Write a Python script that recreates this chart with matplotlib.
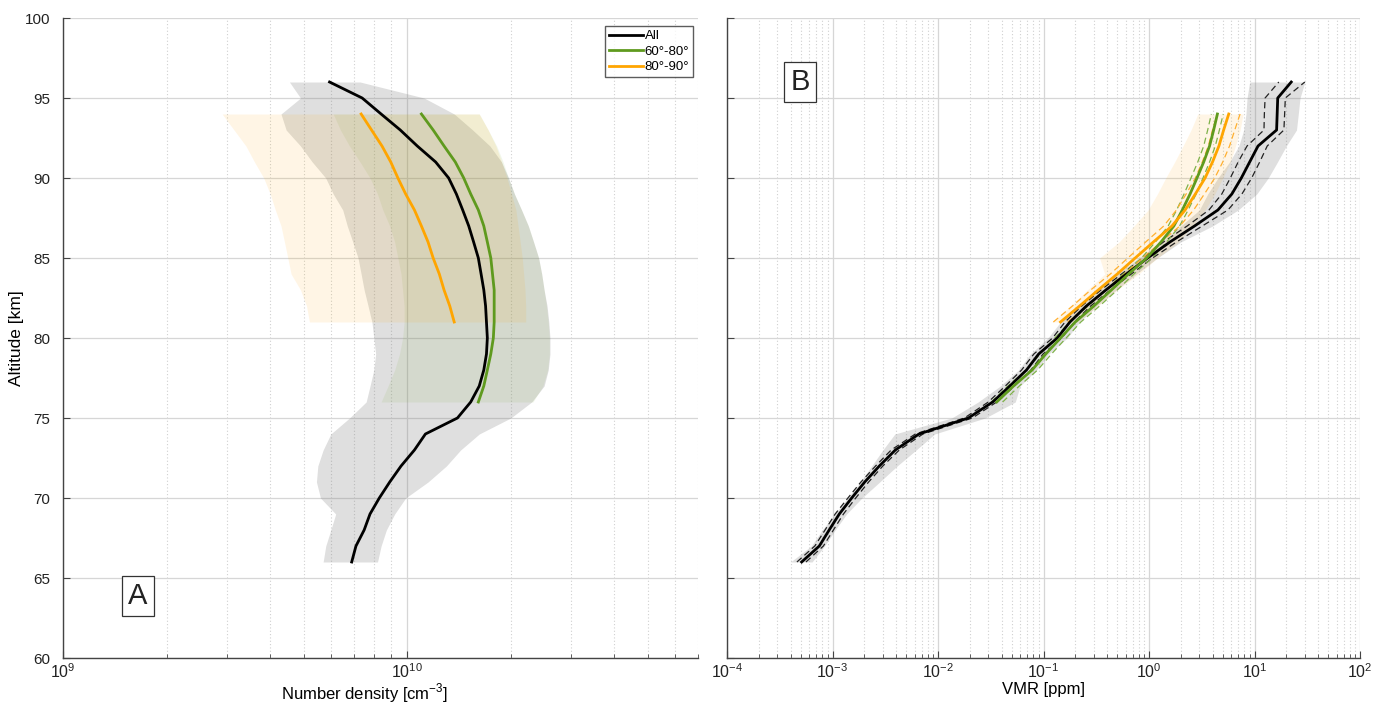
import numpy as np
import matplotlib
matplotlib.use("Agg")
import matplotlib.pyplot as plt
from matplotlib.ticker import LogLocator, NullFormatter, FixedLocator

plt.rcParams['font.family'] = ['Liberation Sans', 'DejaVu Sans']
plt.rcParams['mathtext.fontset'] = 'custom'
plt.rcParams['mathtext.rm'] = 'Liberation Sans'

# ---------------- Panel A data (number density, cm^-3) ----------------
alt_all = [66, 67, 68, 69, 70, 71, 72, 73, 74, 75, 76, 77, 78, 79, 80, 81,
           82, 83, 84, 85, 86, 87, 88, 89, 90, 91, 92, 93, 94, 95, 96]
nd_all = [6.9e9, 7.1e9, 7.5e9, 7.8e9, 8.3e9, 8.9e9, 9.6e9, 1.05e10, 1.13e10,
          1.40e10, 1.53e10, 1.62e10, 1.67e10, 1.70e10, 1.71e10, 1.70e10,
          1.69e10, 1.67e10, 1.64e10, 1.61e10, 1.56e10, 1.51e10, 1.45e10,
          1.39e10, 1.32e10, 1.21e10, 1.07e10, 9.55e9, 8.4e9, 7.4e9, 5.95e9]
nd_all_lo = [5.7e9, 5.8e9, 6.0e9, 6.2e9, 5.6e9, 5.45e9, 5.5e9, 5.7e9, 6.0e9,
             6.8e9, 7.6e9, 7.8e9, 8.0e9, 8.1e9, 8.0e9, 7.9e9, 7.7e9, 7.5e9,
             7.35e9, 7.2e9, 6.95e9, 6.7e9, 6.5e9, 6.1e9, 5.8e9, 5.3e9, 4.9e9,
             4.45e9, 4.3e9, 4.9e9, 4.55e9]
nd_all_hi = [8.2e9, 8.4e9, 8.7e9, 9.2e9, 9.9e9, 1.15e10, 1.3e10, 1.43e10,
             1.62e10, 2.0e10, 2.3e10, 2.5e10, 2.57e10, 2.6e10, 2.6e10, 2.58e10,
             2.55e10, 2.5e10, 2.46e10, 2.41e10, 2.33e10, 2.25e10, 2.15e10,
             2.05e10, 1.97e10, 1.88e10, 1.74e10, 1.55e10, 1.37e10, 1.12e10, 7.3e9]

alt_60_80 = [76, 77, 78, 79, 80, 81, 82, 83, 84, 85, 86, 87, 88, 89, 90, 91, 92, 93, 94]
nd_60_80 = [1.61e10, 1.67e10, 1.71e10, 1.75e10, 1.78e10, 1.79e10, 1.79e10,
            1.79e10, 1.77e10, 1.75e10, 1.71e10, 1.67e10, 1.61e10, 1.53e10,
            1.46e10, 1.38e10, 1.28e10, 1.19e10, 1.10e10]
nd_60_80_lo = [8.4e9, 8.8e9, 9.2e9, 9.5e9, 9.7e9, 9.8e9, 9.8e9, 9.7e9, 9.6e9,
               9.4e9, 9.2e9, 8.9e9, 8.5e9, 8.2e9, 7.8e9, 7.3e9, 6.8e9, 6.4e9, 6.1e9]
nd_60_80_hi = [2.32e10, 2.48e10, 2.56e10, 2.59e10, 2.59e10, 2.57e10, 2.54e10,
               2.5e10, 2.46e10, 2.41e10, 2.33e10, 2.25e10, 2.15e10, 2.05e10,
               1.97e10, 1.9e10, 1.82e10, 1.72e10, 1.62e10]

alt_80_90 = [81, 82, 83, 84, 85, 86, 87, 88, 89, 90, 91, 92, 93, 94]
nd_80_90 = [1.37e10, 1.33e10, 1.28e10, 1.24e10, 1.19e10, 1.15e10, 1.10e10,
            1.05e10, 9.9e9, 9.4e9, 8.96e9, 8.45e9, 7.88e9, 7.35e9]
nd_80_90_lo = [5.2e9, 5.1e9, 4.9e9, 4.6e9, 4.5e9, 4.4e9, 4.3e9, 4.14e9,
               4.0e9, 3.83e9, 3.6e9, 3.4e9, 3.14e9, 2.9e9]
nd_80_90_hi = [2.21e10, 2.21e10, 2.2e10, 2.18e10, 2.16e10, 2.13e10, 2.1e10,
               2.07e10, 2.01e10, 1.95e10, 1.88e10, 1.81e10, 1.72e10, 1.62e10]

# ---------------- Panel B data (VMR, ppm) ----------------
vmr_all = [5.1e-4, 7.5e-4, 9.3e-4, 1.16e-3, 1.52e-3, 2.02e-3, 2.78e-3, 3.94e-3,
           6.6e-3, 1.94e-2, 3.3e-2, 4.8e-2, 6.9e-2, 9.0e-2, 0.135, 0.178,
           0.255, 0.39, 0.61, 0.97, 1.58, 2.7, 4.5, 6.1, 7.5, 9.0, 10.8,
           16.2, 16.4, 16.6, 22.3]
vmr_all_err_lo = [4.6e-4, 6.8e-4, 8.5e-4, 1.06e-3, 1.40e-3, 1.86e-3, 2.56e-3,
                  3.6e-3, 6.1e-3, 1.78e-2, 3.0e-2, 4.35e-2, 6.2e-2, 8.1e-2,
                  0.122, 0.16, 0.23, 0.35, 0.55, 0.87, 1.37, 2.3, 3.7, 4.9,
                  5.9, 7.0, 8.5, 12.3, 12.4, 12.6, 17.0]
vmr_all_err_hi = [5.6e-4, 8.2e-4, 1.02e-3, 1.27e-3, 1.66e-3, 2.2e-3, 3.0e-3,
                  4.3e-3, 7.2e-3, 2.12e-2, 3.6e-2, 5.3e-2, 7.6e-2, 9.9e-2,
                  0.149, 0.196, 0.28, 0.43, 0.68, 1.08, 1.82, 3.2, 5.6, 7.6,
                  9.4, 11.2, 13.2, 19.0, 19.3, 19.6, 30.0]
vmr_all_lo = [4.0e-4, 6.3e-4, 8.0e-4, 1.05e-3, 1.39e-3, 1.84e-3, 2.35e-3,
              3.0e-3, 3.9e-3, 1.35e-2, 2.4e-2, 3.9e-2, 5.8e-2, 7.5e-2, 0.11,
              0.145, 0.21, 0.32, 0.5, 0.8, 1.3, 2.0, 3.0, 3.6, 4.5, 5.8, 7.1,
              7.9, 8.3, 8.5, 9.0]
vmr_all_hi = [6.4e-4, 8.4e-4, 1.06e-3, 1.36e-3, 1.9e-3, 2.8e-3, 4.1e-3, 6.2e-3,
              9.3e-3, 2.8e-2, 5.4e-2, 6.0e-2, 8.6e-2, 0.112, 0.168, 0.22,
              0.32, 0.49, 0.76, 1.2, 2.0, 4.0, 7.0, 10.5, 13.5, 16.5, 20.0,
              25.0, 26.0, 27.0, 30.0]

vmr_60_80 = [0.036, 0.052, 0.078, 0.105, 0.145, 0.20, 0.30, 0.44, 0.64, 0.95,
             1.30, 1.72, 2.07, 2.45, 2.85, 3.3, 3.75, 4.1, 4.45]
vmr_60_80_err_lo = [0.032, 0.046, 0.069, 0.093, 0.128, 0.177, 0.265, 0.39,
                    0.57, 0.85, 1.15, 1.52, 1.83, 2.15, 2.5, 2.9, 3.3, 3.6, 3.9]
vmr_60_80_err_hi = [0.041, 0.059, 0.088, 0.119, 0.164, 0.226, 0.34, 0.5,
                    0.72, 1.07, 1.47, 1.95, 2.35, 2.8, 3.25, 3.75, 4.25, 4.65, 5.05]

vmr_80_90 = [0.145, 0.22, 0.33, 0.50, 0.74, 1.1, 1.65, 2.2, 2.75, 3.4, 4.0,
             4.6, 5.1, 5.7]
vmr_80_90_err_lo = [0.124, 0.188, 0.28, 0.43, 0.63, 0.93, 1.38, 1.82, 2.25,
                    2.75, 3.2, 3.65, 4.0, 4.45]
vmr_80_90_err_hi = [0.17, 0.257, 0.39, 0.585, 0.87, 1.3, 1.96, 2.65, 3.35,
                    4.2, 5.0, 5.8, 6.5, 7.3]
vmr_80_90_lo = [0.12, 0.18, 0.26, 0.38, 0.34, 0.52, 0.72, 0.98, 1.2, 1.44,
                1.75, 2.1, 2.5, 2.9]
vmr_80_90_hi = [0.21, 0.33, 0.5, 0.8, 1.2, 1.9, 2.6, 3.4, 4.2, 5.0, 5.9,
                6.6, 7.3, 7.8]

# ---------------- colours ----------------
c_all = 'black'
c_green = '#5f9a1e'
c_orange = '#ffa500'
grid_c = '#d6d6d6'
axis_c = '#444444'

W, H = 1374, 704
fig = plt.figure(figsize=(W / 100, H / 100), dpi=100)

def px_axes(x0, x1, y0, y1):
    return fig.add_axes([x0 / W, 1 - y1 / H, (x1 - x0) / W, (y1 - y0) / H])

axA = px_axes(63, 698, 18, 658)
axB = px_axes(727, 1360, 18, 658)

def style(ax):
    ax.set_xscale('log')
    ax.set_ylim(60, 100)
    ax.set_yticks(np.arange(60, 101, 5))
    ax.xaxis.set_minor_locator(LogLocator(base=10, subs=np.arange(2, 10), numticks=50))
    ax.xaxis.set_minor_formatter(NullFormatter())
    ax.grid(True, which='major', color=grid_c, lw=0.9, ls='-', zorder=0)
    ax.grid(True, which='minor', axis='x', color='#d0d0d0', lw=0.8, ls=(0, (1, 2)), zorder=0)
    ax.set_axisbelow(True)
    for s in ['top', 'right']:
        ax.spines[s].set_visible(False)
    for s in ['left', 'bottom']:
        ax.spines[s].set_color(axis_c)
        ax.spines[s].set_linewidth(1.0)
    ax.tick_params(which='both', direction='in', colors=axis_c, labelcolor='#222222',
                   labelsize=11, top=False, right=False)
    ax.tick_params(axis='x', which='major', pad=3, labelsize=11.5)
    ax.tick_params(axis='y', which='major', pad=9)
    ax.tick_params(which='major', length=5)
    ax.tick_params(which='minor', length=3)

# ---------------- Panel A ----------------
style(axA)
axA.set_xlim(1e9, 7e10)
axA.fill_betweenx(alt_all, nd_all_lo, nd_all_hi, color=(0.5, 0.5, 0.5), alpha=0.25, lw=0, zorder=1)
axA.fill_betweenx(alt_60_80, nd_60_80_lo, nd_60_80_hi, color=(0.47, 0.67, 0.19), alpha=0.1, lw=0, zorder=1)
axA.fill_betweenx(alt_80_90, nd_80_90_lo, nd_80_90_hi, color=(1.0, 0.65, 0.0), alpha=0.1, lw=0, zorder=1)
axA.plot(nd_all, alt_all, color=c_all, lw=2, label='All', zorder=3)
axA.plot(nd_60_80, alt_60_80, color=c_green, lw=2, label='60°-80°', zorder=3)
axA.plot(nd_80_90, alt_80_90, color=c_orange, lw=2, label='80°-90°', zorder=3)
axA.xaxis.set_major_locator(FixedLocator([1e9, 1e10]))
axA.set_ylabel('Altitude [km]', fontsize=12.5, labelpad=1)
axA.set_xlabel('Number density [cm$^{-3}$]', fontsize=12)
axA.xaxis.set_label_coords((365 - 63) / 635, -0.037, transform=axA.transAxes)
axA.xaxis.label.set_va('top')
leg = axA.legend(loc='upper left', bbox_to_anchor=((605 - 63) / 635, 1 - (26 - 18) / 640),
                 frameon=True, fancybox=False, fontsize=9.5, handlelength=2.6,
                 handletextpad=0.1, borderpad=0.3, labelspacing=0.25, borderaxespad=0)
leg.get_frame().set_edgecolor('#333333')
leg.get_frame().set_linewidth(1.0)
axA.text(138 / W, 1 - 596 / H, 'A', transform=fig.transFigure, fontsize=21,
         ha='center', va='center', color='#222222',
         bbox=dict(boxstyle='square,pad=0.2', fc='white', ec='#333333', lw=0.9))

# ---------------- Panel B ----------------
style(axB)
axB.set_xlim(1e-4, 1e2)
axB.xaxis.set_major_locator(FixedLocator([1e-4, 1e-3, 1e-2, 1e-1, 1e0, 1e1, 1e2]))
axB.set_yticklabels([])
axB.fill_betweenx(alt_all, vmr_all_lo, vmr_all_hi, color=(0.5, 0.5, 0.5), alpha=0.25, lw=0, zorder=1)
axB.fill_betweenx(alt_80_90, vmr_80_90_lo, vmr_80_90_hi, color=(1.0, 0.65, 0.0), alpha=0.1, lw=0, zorder=1)
axB.plot(vmr_all_err_lo, alt_all, color='#222222', lw=0.9, ls=(0, (5, 3)), zorder=2)
axB.plot(vmr_all_err_hi, alt_all, color='#222222', lw=0.9, ls=(0, (5, 3)), zorder=2)
axB.plot(vmr_60_80_err_lo, alt_60_80, color='#7fb24a', lw=0.9, ls=(0, (5, 3)), zorder=2)
axB.plot(vmr_60_80_err_hi, alt_60_80, color='#7fb24a', lw=0.9, ls=(0, (5, 3)), zorder=2)
axB.plot(vmr_80_90_err_lo, alt_80_90, color='#ffb030', lw=0.9, ls=(0, (5, 3)), zorder=2)
axB.plot(vmr_80_90_err_hi, alt_80_90, color='#ffb030', lw=0.9, ls=(0, (5, 3)), zorder=2)
axB.plot(vmr_all, alt_all, color=c_all, lw=2, zorder=3)
axB.plot(vmr_60_80, alt_60_80, color=c_green, lw=2, zorder=3)
axB.plot(vmr_80_90, alt_80_90, color=c_orange, lw=2, zorder=3)
axB.set_xlabel('VMR [ppm]', fontsize=12)
axB.xaxis.set_label_coords(0.5, -0.037, transform=axB.transAxes)
axB.xaxis.label.set_va('top')
axB.text(800 / W, 1 - 82 / H, 'B', transform=fig.transFigure, fontsize=21,
         ha='center', va='center', color='#222222',
         bbox=dict(boxstyle='square,pad=0.2', fc='white', ec='#333333', lw=0.9))

fig.savefig('out.png', dpi=100)
